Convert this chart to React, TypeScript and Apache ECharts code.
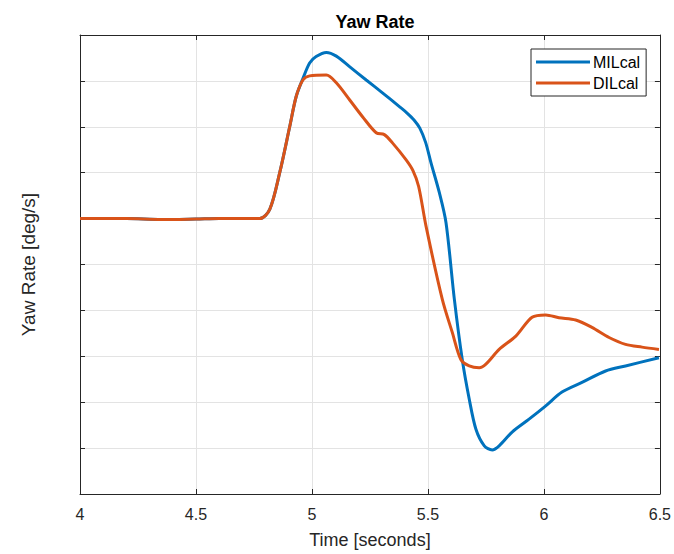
import React, { useEffect, useRef } from "react";
import * as echarts from "echarts";

const xTicks = [4, 4.5, 5, 5.5, 6, 6.5];

const milTime = [4.0, 4.2, 4.35, 4.5, 4.6, 4.775, 4.818, 4.861, 4.904, 4.932, 4.961, 4.99, 5.018, 5.062, 5.105, 5.162, 5.234, 5.304, 5.377, 5.41, 5.44, 5.465, 5.49, 5.513, 5.549, 5.578, 5.614, 5.648, 5.678, 5.707, 5.743, 5.777, 5.807, 5.863, 5.936, 6.008, 6.078, 6.164, 6.266, 6.352, 6.496];
const milValues = [6.0, 6.0, 5.98, 5.99, 6.0, 6.0, 6.2, 7.0, 8.0, 8.66, 9.05, 9.39, 9.53, 9.62, 9.54, 9.31, 9.02, 8.74, 8.44, 8.3, 8.15, 7.97, 7.66, 7.22, 6.57, 5.91, 4.24, 2.93, 2.07, 1.41, 1.05, 0.96, 1.05, 1.35, 1.63, 1.92, 2.22, 2.43, 2.68, 2.79, 2.97];

const dilTime = [4.0, 4.2, 4.35, 4.5, 4.6, 4.775, 4.818, 4.861, 4.904, 4.932, 4.961, 4.99, 5.062, 5.105, 5.162, 5.218, 5.277, 5.312, 5.347, 5.406, 5.435, 5.46, 5.492, 5.562, 5.605, 5.642, 5.678, 5.721, 5.75, 5.807, 5.879, 5.949, 6.008, 6.065, 6.137, 6.207, 6.281, 6.352, 6.423, 6.496];
const dilValues = [6.0, 6.0, 5.98, 5.99, 6.0, 6.0, 6.2, 7.0, 8.0, 8.66, 9.02, 9.11, 9.13, 8.96, 8.59, 8.22, 7.87, 7.83, 7.65, 7.28, 7.05, 6.7, 5.83, 4.24, 3.52, 2.93, 2.79, 2.75, 2.83, 3.15, 3.44, 3.85, 3.9, 3.84, 3.79, 3.63, 3.41, 3.26, 3.2, 3.15];

const FONT = "Liberation Sans, Arial, sans-serif";
const INK = "#262626";

export default function App() {
  const ref = useRef<HTMLDivElement>(null);
  useEffect(() => {
    if (!ref.current) return;
    const chart = echarts.init(ref.current, null, { renderer: "svg" });
    const pair = (t: number[], v: number[]) => t.map((x, i) => [x, v[i]]);
    const axisCommon = {
      axisLine: { show: true, onZero: false, lineStyle: { color: INK, width: 1 } },
      axisTick: { show: true, inside: true, length: 5, lineStyle: { color: INK } },
    };
    chart.setOption({
      animation: false,
      backgroundColor: "#ffffff",
      textStyle: { fontFamily: FONT },
      title: {
        text: "Yaw Rate",
        left: 370,
        textAlign: "center",
        top: 8,
        textStyle: { fontFamily: FONT, fontSize: 18, fontWeight: "bold", color: "#000" },
      },
      legend: {
        orient: "vertical",
        left: 531,
        top: 49,
        padding: [5, 6, 5, 5],
        itemGap: 5,
        itemWidth: 54,
        itemHeight: 3,
        icon: "rect",
        borderColor: INK,
        borderWidth: 1,
        backgroundColor: "#fff",
        textStyle: { fontFamily: FONT, fontSize: 16, color: "#000", padding: [0, 0, 0, -2] },
        data: ["MILcal", "DILcal"],
      },
      grid: { left: 80, right: 13, top: 35, bottom: 59 },
      xAxis: [
        {
          type: "value",
          min: 4,
          max: 6.5,
          interval: 0.5,
          position: "bottom",
          name: "Time [seconds]",
          nameLocation: "middle",
          nameGap: 37,
          nameTextStyle: { fontFamily: FONT, fontSize: 18, color: INK },
          ...axisCommon,
          axisLabel: {
            show: true,
            margin: 12,
            fontFamily: FONT,
            fontSize: 16,
            color: INK,
            formatter: (v: number) => (xTicks.includes(v) ? String(v) : ""),
          },
          splitLine: { show: true, lineStyle: { color: "#e3e3e3", width: 1 } },
        },
        {
          type: "value",
          min: 4,
          max: 6.5,
          interval: 0.5,
          position: "top",
          ...axisCommon,
          axisLabel: { show: false },
          splitLine: { show: false },
        },
      ],
      yAxis: [
        {
          type: "value",
          min: 0,
          max: 10,
          interval: 1,
          position: "left",
          name: "Yaw Rate [deg/s]",
          nameLocation: "middle",
          nameGap: 42,
          nameTextStyle: { fontFamily: FONT, fontSize: 19, color: INK },
          ...axisCommon,
          axisLabel: { show: false },
          splitLine: { show: true, lineStyle: { color: "#e3e3e3", width: 1 } },
        },
        {
          type: "value",
          min: 0,
          max: 10,
          interval: 1,
          position: "right",
          ...axisCommon,
          axisLabel: { show: false },
          splitLine: { show: false },
        },
      ],
      series: [
        {
          name: "MILcal",
          type: "line",
          data: pair(milTime, milValues),
          smooth: 0.3,
          symbol: "none",
          color: "#0072BD",
          lineStyle: { width: 3, color: "#0072BD" },
          z: 2,
        },
        {
          name: "DILcal",
          type: "line",
          data: pair(dilTime, dilValues),
          smooth: 0.3,
          symbol: "none",
          color: "#D95319",
          lineStyle: { width: 3, color: "#D95319" },
          z: 3,
        },
      ],
    });
    return () => chart.dispose();
  }, []);
  return (
    <div
      ref={ref}
      style={{ position: "fixed", left: 0, top: 0, width: 674, height: 554, background: "#fff" }}
    />
  );
}
